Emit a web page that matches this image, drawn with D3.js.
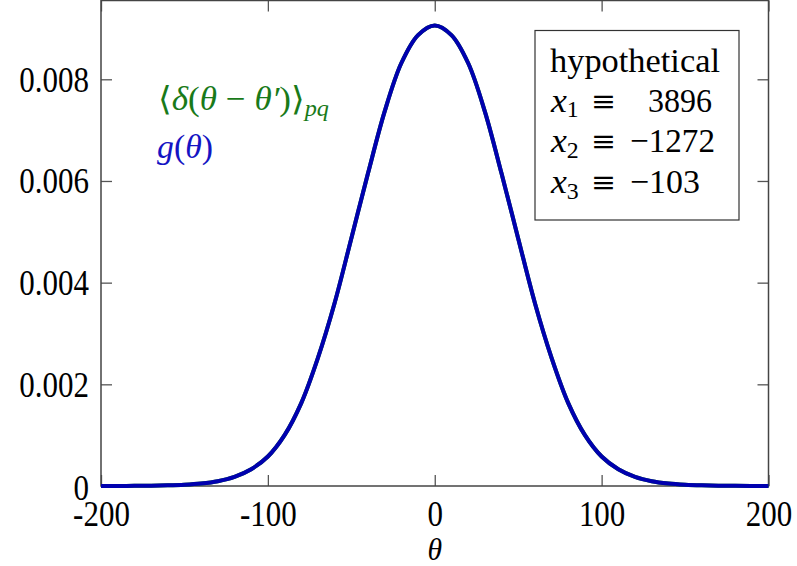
<!DOCTYPE html>
<html>
<head>
<meta charset="utf-8">
<script src="https://cdn.jsdelivr.net/npm/d3@7"></script>
<style>
  body { margin: 0; background: #fff; }
  svg { display: block; font-family: "Liberation Serif", "DejaVu Serif", serif; }
</style>
</head>
<body>
<div id="chart"></div>
<script>
// theta grid and curve values
var thetaVals = [-200, -190, -180, -170, -160, -150, -140, -130, -120, -110, -100,
                 -90, -80, -70, -60, -50, -40, -30, -20, -10, 0,
                 10, 20, 30, 40, 50, 60, 70, 80, 90, 100,
                 110, 120, 130, 140, 150, 160, 170, 180, 190, 200];
var gVals = [0.0000005, 0.0000012, 0.000003, 0.000006, 0.000013, 0.000026, 0.00005, 0.000095, 0.00018, 0.00033, 0.00058,
             0.00100, 0.00163, 0.00252, 0.00360, 0.00487, 0.00615, 0.00737, 0.00832, 0.00887, 0.00906,
             0.00887, 0.00832, 0.00737, 0.00615, 0.00487, 0.00360, 0.00252, 0.00163, 0.00100, 0.00058,
             0.00033, 0.00018, 0.000095, 0.00005, 0.000026, 0.000013, 0.000006, 0.000003, 0.0000012, 0.0000005];
// pair average lies exactly under g(theta)
var deltaVals = gVals.slice();

var xTicks = [-200, -100, 0, 100, 200];
var yTicks = [0, 0.002, 0.004, 0.006, 0.008];
var boxTitle = "hypothetical";
var boxNames = ["1", "2", "3"];
var boxValues = ["3896", "\u22121272", "\u2212103"];

function chart() {
    var width = 797, height = 566;
    var mLeft = 101, mRight = 768.5, mTop = 0.5, mBottom = 486;
    var sy = 1.15;  // text is drawn a bit taller than wide
    var green = "rgb(25,122,25)", blue = "rgb(20,20,195)";

    var svg = d3.select("#chart").append("svg")
        .attr("width", width)
        .attr("height", height);

    var x = d3.scaleLinear().domain([-200, 200]).range([mLeft, mRight]);
    var y = d3.scaleLinear().domain([0, 0.00955]).range([mBottom, mTop]);

    // stretch a text so it spans the given width
    function fit(t, tx, ty, w, s) {
        var bw = t.node().getBBox().width;
        t.attr("transform", "translate(" + tx + "," + ty + ") scale(" + (w / bw) + "," + (s || sy) + ")");
        return t;
    }

    // axes, ticks pointing inward
    var xAxis = svg.append("g")
        .attr("transform", "translate(0," + mBottom + ")")
        .call(d3.axisBottom(x).tickValues(xTicks).tickSize(-11).tickPadding(0)
            .tickFormat(function (d) { return String(d); }));
    xAxis.selectAll("text")
        .attr("y", null).attr("dy", null)
        .attr("transform", "translate(0,40) scale(1," + sy + ")");

    svg.append("g")
        .attr("transform", "translate(0," + mTop + ")")
        .call(d3.axisTop(x).tickValues(xTicks).tickSize(-11).tickFormat(""));

    var yAxis = svg.append("g")
        .attr("transform", "translate(" + mLeft + ",0)")
        .call(d3.axisLeft(y).tickValues(yTicks).tickSize(-11).tickPadding(0)
            .tickFormat(function (d) { return d === 0 ? "0" : d3.format(".3f")(d); }));
    yAxis.selectAll("text")
        .attr("x", null).attr("dy", null)
        .attr("transform", function (d) {
            return "translate(-12," + (d === 0 ? 13 : 12) + ") scale(1," + sy + ")";
        });

    svg.append("g")
        .attr("transform", "translate(" + mRight + ",0)")
        .call(d3.axisRight(y).tickValues(yTicks).tickSize(-11).tickFormat(""));

    svg.selectAll(".domain").remove();
    svg.selectAll(".tick line").attr("stroke", "#555").attr("stroke-width", 1.3);
    svg.selectAll(".tick text").attr("font-size", 31).attr("fill", "#000")
        .attr("font-family", "Liberation Serif, serif");

    // frame
    svg.append("rect")
        .attr("x", mLeft).attr("y", mTop)
        .attr("width", mRight - mLeft).attr("height", mBottom - mTop)
        .attr("fill", "none").attr("stroke", "#444").attr("stroke-width", 1.5);

    // curves
    var line = d3.line()
        .x(function (d, i) { return x(thetaVals[i]); })
        .y(function (d) { return y(d); })
        .curve(d3.curveCatmullRom);

    svg.append("path").datum(deltaVals)
        .attr("d", line).attr("fill", "none")
        .attr("stroke", green).attr("stroke-width", 4);
    svg.append("path").datum(gVals)
        .attr("d", line).attr("fill", "none")
        .attr("stroke", "rgb(0,0,175)").attr("stroke-width", 4);

    // x label
    svg.append("text")
        .attr("transform", "translate(" + x(0) + ",560) scale(1.1," + sy + ")")
        .attr("text-anchor", "middle").attr("font-size", 27).attr("font-style", "italic")
        .text("\u03b8");

    // curve labels
    var lab1 = svg.append("text")
        .attr("font-size", 29).attr("fill", green);
    lab1.append("tspan").text("\u27e8");
    lab1.append("tspan").attr("font-style", "italic").text("\u03b4");
    lab1.append("tspan").text("(");
    lab1.append("tspan").attr("font-style", "italic").text("\u03b8");
    lab1.append("tspan").text(" \u2212 ");
    lab1.append("tspan").attr("font-style", "italic").text("\u03b8\u2032");
    lab1.append("tspan").text(")\u27e9");
    lab1.append("tspan").attr("font-style", "italic").attr("font-size", 20).attr("dy", 5).text("pq");
    fit(lab1, 158, 110, 171);

    var lab2 = svg.append("text")
        .attr("font-size", 29).attr("fill", blue);
    lab2.append("tspan").attr("font-style", "italic").text("g");
    lab2.append("tspan").text("(");
    lab2.append("tspan").attr("font-style", "italic").text("\u03b8");
    lab2.append("tspan").text(")");
    fit(lab2, 157, 158, 56);

    // parameter box
    svg.append("rect")
        .attr("x", 535).attr("y", 30.5)
        .attr("width", 204).attr("height", 189.5)
        .attr("fill", "#fff").attr("stroke", "#333").attr("stroke-width", 1.2);

    fit(svg.append("text").attr("font-size", 30).text(boxTitle), 550, 71.5, 170);

    var valX = [648, 630, 630], valW = [64, 85, 70];
    boxNames.forEach(function (n, i) {
        var by = 111.5 + i * 40.7;
        var t = svg.append("text").attr("font-size", 30);
        t.append("tspan").attr("font-style", "italic").text("x");
        t.append("tspan").attr("font-size", 20).attr("dy", 5).text(n);
        fit(t, 551, by, 29);
        var eq = svg.append("text")
            .attr("font-family", "DejaVu Serif, serif").attr("font-size", 26)
            .text("\u2261");
        fit(eq, 591, by - 1, 25, 1.1);
        fit(svg.append("text").attr("font-size", 30).text(boxValues[i]), valX[i], by, valW[i]);
    });
}
chart();
</script>
</body>
</html>
